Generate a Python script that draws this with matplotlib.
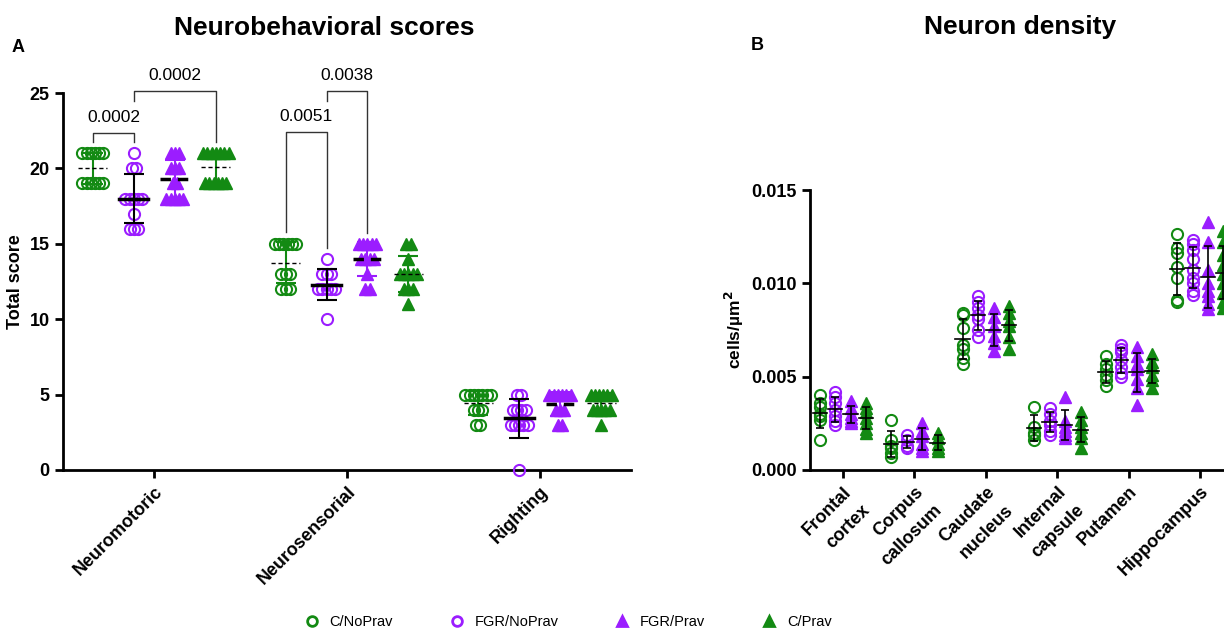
import numpy as np
import matplotlib
matplotlib.use('Agg')
import matplotlib.pyplot as plt
from matplotlib.lines import Line2D

plt.rcParams['font.family'] = ['Liberation Sans', 'DejaVu Sans']

groups = ['C/NoPrav', 'FGR/NoPrav', 'FGR/Prav', 'C/Prav']
colors = ['#138a13', '#9b1dff', '#9b1dff', '#138a13']
markers = ['o', 'o', '^', '^']
filled = [False, False, True, True]

# panel A: neurobehavioral scores
behav_categories = ['Neuromotoric', 'Neurosensorial', 'Righting']
behav_c_noprav = [
    [21, 21, 21, 21, 21, 21, 19, 19, 19, 19, 19, 19],
    [15, 15, 15, 15, 15, 15, 13, 13, 13, 12, 12, 12],
    [5, 5, 5, 5, 5, 5, 5, 4, 4, 4, 3, 3],
]
behav_fgr_noprav = [
    [21, 20, 20, 18, 18, 18, 18, 18, 17, 16, 16, 16],
    [14, 13, 13, 13, 12, 12, 12, 12, 12, 10],
    [5, 5, 4, 4, 4, 4, 3, 3, 3, 3, 3, 0],
]
behav_fgr_prav = [
    [21, 21, 21, 20, 20, 20, 19, 19, 18, 18, 18, 18, 18],
    [15, 15, 15, 15, 15, 14, 14, 14, 14, 13, 12, 12],
    [5, 5, 5, 5, 5, 5, 4, 4, 4, 3, 3],
]
behav_c_prav = [
    [21, 21, 21, 21, 21, 21, 21, 19, 19, 19, 19, 19, 19],
    [15, 15, 14, 13, 13, 13, 13, 13, 12, 12, 12, 11],
    [5, 5, 5, 5, 5, 5, 4, 4, 4, 4, 4, 3],
]
behav_data = [behav_c_noprav, behav_fgr_noprav, behav_fgr_prav, behav_c_prav]

# (category, group a, group b, bracket top, bottom a, bottom b, p-value)
brackets = [
    (0, 0, 1, 22.35, 21.75, 21.75, '0.0002'),
    (0, 1, 3, 25.1, 24.5, 21.75, '0.0002'),
    (1, 0, 1, 22.4, 15.8, 14.7, '0.0051'),
    (1, 1, 2, 25.1, 24.5, 15.7, '0.0038'),
]

# panel B: neuron density (cells/um^2)
dens_categories = ['Frontal\ncortex', 'Corpus\ncallosum', 'Caudate\nnucleus',
                   'Internal\ncapsule', 'Putamen', 'Hippocampus']
dens_c_noprav = [
    [0.0040, 0.0036, 0.0034, 0.0030, 0.0029, 0.0027, 0.0016],
    [0.0027, 0.0016, 0.0013, 0.0012, 0.0009, 0.0007],
    [0.0084, 0.0083, 0.0076, 0.0067, 0.0065, 0.0060, 0.0057],
    [0.0034, 0.0023, 0.0020, 0.0019, 0.0016],
    [0.0061, 0.0057, 0.0054, 0.0051, 0.0048, 0.0045],
    [0.01265, 0.0119, 0.0116, 0.0109, 0.0103, 0.0091, 0.0090],
]
dens_fgr_noprav = [
    [0.0042, 0.0039, 0.0036, 0.0032, 0.0029, 0.0026, 0.0024],
    [0.0019, 0.0016, 0.0013, 0.0012],
    [0.0093, 0.0090, 0.0087, 0.0083, 0.0081, 0.0075, 0.0071],
    [0.0033, 0.0030, 0.0026, 0.0024, 0.0021, 0.0019],
    [0.0067, 0.0065, 0.0063, 0.0059, 0.0055, 0.0052, 0.0050],
    [0.0123, 0.0121, 0.0118, 0.0113, 0.0107, 0.0103, 0.0100, 0.0096, 0.0094],
]
dens_fgr_prav = [
    [0.0037, 0.0033, 0.0030, 0.0028, 0.0026, 0.0025],
    [0.0025, 0.0021, 0.0018, 0.0014, 0.0012, 0.0010],
    [0.0087, 0.0082, 0.0077, 0.0072, 0.0068, 0.0064],
    [0.0039, 0.0026, 0.0023, 0.0021, 0.0019, 0.0017],
    [0.0066, 0.0061, 0.0057, 0.0054, 0.0049, 0.0044, 0.0035],
    [0.0133, 0.0122, 0.0107, 0.0100, 0.0096, 0.0093, 0.0089, 0.0086],
]
dens_c_prav = [
    [0.0036, 0.0033, 0.0031, 0.0028, 0.0025, 0.0022, 0.0020],
    [0.0020, 0.0017, 0.0014, 0.0012, 0.0010],
    [0.0088, 0.0084, 0.0080, 0.0077, 0.0071, 0.0065],
    [0.0031, 0.0027, 0.0023, 0.0020, 0.0017, 0.0012],
    [0.0062, 0.0058, 0.0055, 0.0051, 0.0048, 0.0044],
    [0.0128, 0.0122, 0.0115, 0.0110, 0.0105, 0.0100, 0.0095, 0.0090, 0.0087],
]
dens_data = [dens_c_noprav, dens_fgr_noprav, dens_fgr_prav, dens_c_prav]


def swarm_x(vals, center, step):
    vals = np.asarray(vals, dtype=float)
    xs = np.empty(len(vals))
    for v in np.unique(vals):
        idx = np.where(vals == v)[0]
        n = len(idx)
        xs[idx] = center + (np.arange(n) - (n - 1) / 2) * step
    return xs


def draw_points(ax, xs, ys, g, ms):
    if filled[g]:
        ax.plot(xs, ys, linestyle='none', marker=markers[g], ms=ms,
                color=colors[g], mec=colors[g], zorder=3, clip_on=False)
    else:
        ax.plot(xs, ys, linestyle='none', marker=markers[g], ms=ms,
                mfc='none', mec=colors[g], mew=1.5, zorder=3, clip_on=False)


def style_axes(ax):
    for s in ['top', 'right']:
        ax.spines[s].set_visible(False)
    for s in ['left', 'bottom']:
        ax.spines[s].set_linewidth(2)
    ax.tick_params(width=2, length=6, labelsize=13)
    for lab in ax.get_yticklabels():
        lab.set_fontweight('bold')


fig = plt.figure(figsize=(12.24, 6.32), dpi=100)

# ---- panel A
axA = fig.add_axes([63 / 1224, 1 - 470 / 632, (631 - 63) / 1224, (470 - 93) / 632])
offsA = [-0.319, -0.106, 0.106, 0.319]
for g in range(4):
    for c in range(3):
        vals = np.array(behav_data[g][c], dtype=float)
        xc = c + offsA[g]
        draw_points(axA, swarm_x(vals, xc, 0.022), vals, g, 8)
        m, sd = vals.mean(), vals.std(ddof=1)
        ecol = 'black' if g == 1 else colors[g]
        axA.errorbar(xc, m, yerr=sd, color=ecol, capsize=7, capthick=1.5,
                     elinewidth=1.5, zorder=4)
        lw = 1.0 if g in (0, 3) else 2.5
        axA.plot([xc - 0.075, xc + 0.075], [m, m], color='black', lw=lw,
                 ls=(0, (3, 2)) if g != 1 else '-', zorder=5)

for c, ga, gb, top, ya, yb, lab in brackets:
    xa = c + offsA[ga]
    xb = c + offsA[gb]
    axA.plot([xa, xa, xb, xb], [ya, top, top, yb], color='#333333', lw=1,
             clip_on=False, zorder=2)
    axA.text((xa + xb) / 2, top + 0.55, lab, ha='center', va='bottom',
             fontsize=12.5)

axA.set_xlim(-0.474, 2.474)
axA.set_ylim(0, 25)
axA.set_yticks([0, 5, 10, 15, 20, 25])
axA.set_xticks(range(3))
axA.set_xticklabels(behav_categories, rotation=45, ha='right',
                    rotation_mode='anchor', fontweight='bold', fontsize=13)
style_axes(axA)
axA.set_ylabel('Total score', fontweight='bold', fontsize=13, labelpad=4)

# ---- panel B
axB = fig.add_axes([810 / 1224, 1 - 470 / 632, (1236 - 810) / 1224, (470 - 190) / 632])
offsB = [-0.325, -0.108, 0.108, 0.325]
for g in range(4):
    for c in range(6):
        vals = np.array(dens_data[g][c])
        xc = c + offsB[g]
        draw_points(axB, np.full(len(vals), xc), vals, g, 8)
        m, sd = vals.mean(), vals.std(ddof=1)
        axB.errorbar(xc, m, yerr=sd, color='black', capsize=3, capthick=1.2,
                     elinewidth=1.2, zorder=4)
        axB.plot([xc - 0.1, xc + 0.1], [m, m], color='black', lw=1.2, zorder=5)

axB.set_xlim(-0.46, 5.5)
axB.set_ylim(0, 0.015)
axB.set_yticks([0, 0.005, 0.010, 0.015])
axB.set_yticklabels(['0.000', '0.005', '0.010', '0.015'])
axB.set_xticks(range(6))
axB.set_xticklabels(dens_categories, rotation=45, ha='right', va='top',
                    rotation_mode='anchor', fontweight='bold', fontsize=13,
                    multialignment='right', linespacing=1.7)
style_axes(axB)
axB.set_ylabel('cells/µm$^\\mathbf{2}$', fontweight='bold', fontsize=12.5, labelpad=4)

# titles and panel letters
fig.text(324 / 1224, 1 - 28 / 632, 'Neurobehavioral scores', ha='center',
         va='center', fontsize=19, fontweight='bold')
fig.text(1020 / 1224, 1 - 27 / 632, 'Neuron density', ha='center',
         va='center', fontsize=19, fontweight='bold')
fig.text(18 / 1224, 1 - 48 / 632, 'A', ha='center', va='center',
         fontsize=13, fontweight='bold')
fig.text(757 / 1224, 1 - 46 / 632, 'B', ha='center', va='center',
         fontsize=13, fontweight='bold')

handles = []
for g in range(4):
    handles.append(Line2D([], [], linestyle='none', marker=markers[g], ms=7,
                          mfc=colors[g] if filled[g] else 'none',
                          mec=colors[g], mew=2))
fig.legend(handles, groups, loc='center', ncol=4, frameon=False,
           bbox_to_anchor=(568 / 1224, 1 - 622 / 632), fontsize=10.5,
           columnspacing=3.9, handlelength=1.0, handletextpad=0.7)

fig.savefig('out.png', dpi=100)
